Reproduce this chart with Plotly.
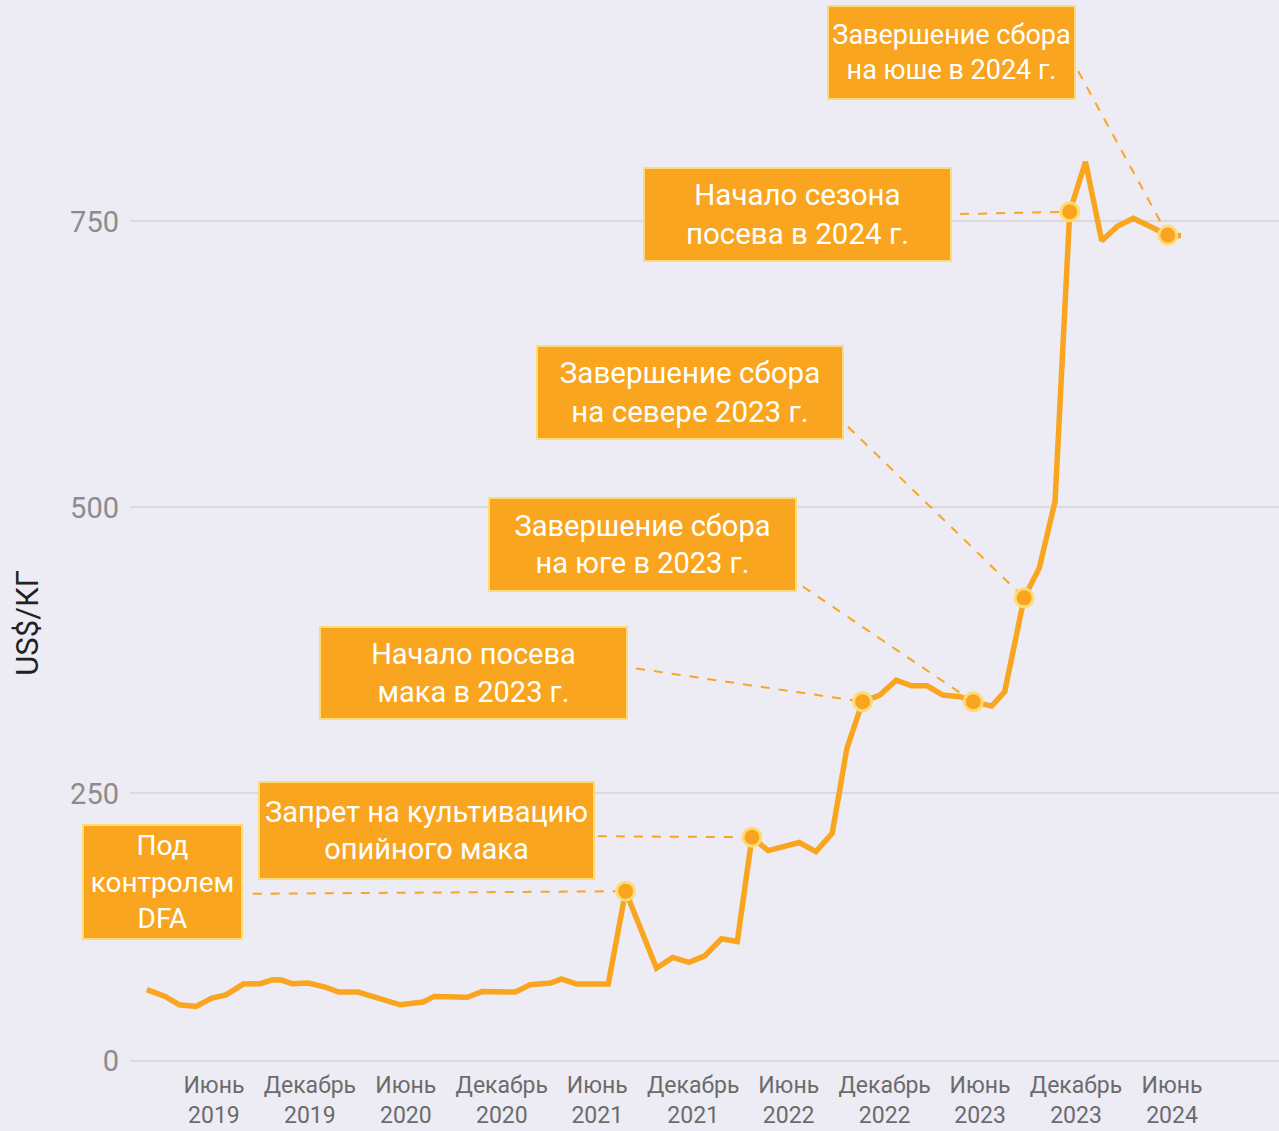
import plotly.graph_objects as go

# ---- data ----
dates = ["2019-01-24","2019-02-28","2019-03-27","2019-04-28","2019-05-28","2019-06-24","2019-07-27",
         "2019-08-29","2019-09-21","2019-10-08","2019-10-28","2019-11-28","2019-12-30",
         "2020-01-25","2020-03-02","2020-05-21","2020-07-04","2020-07-25","2020-09-26","2020-10-25","2020-12-27",
         "2021-01-24","2021-03-04","2021-03-25","2021-04-23","2021-06-22","2021-07-25","2021-09-22","2021-10-23",
         "2021-11-23","2021-12-23",
         "2022-01-24","2022-02-23","2022-03-23","2022-04-23","2022-06-21","2022-07-23","2022-08-23","2022-09-20",
         "2022-10-20","2022-11-22","2022-12-23",
         "2023-01-21","2023-02-20","2023-03-22","2023-04-24","2023-05-19","2023-06-23","2023-07-18","2023-08-24",
         "2023-09-22","2023-10-22","2023-11-19","2023-12-19",
         "2024-01-19","2024-02-18","2024-03-19","2024-05-24","2024-06-18"]
prices = [78.4,72.5,65.2,63.8,71.1,73.9,83.3,83.6,87.1,86.8,83.6,84.2,80.7,
          76.3,76.3,65.2,67.6,72.5,71.7,76.9,76.3,
          82.7,84.2,87.7,83.3,83.3,164.5,97.2,106.6,102.3,108.0,
          122.9,120.5,211.7,200.0,207.0,199.1,215.1,289.3,330.1,335.9,349.0,
          344.0,344.0,335.9,334.5,330.1,326.3,338.9,420.9,447.1,505.3,758.4,802.1,
          733.1,745.7,752.6,738.0,737.5]

event_dates = ["2021-07-25","2022-03-23","2022-10-20","2023-05-19","2023-08-24","2023-11-19","2024-05-24"]
event_labels = ["Под<br>контролем<br>DFA",
                "Запрет на культивацию<br>опийного мака",
                "Начало посева<br>мака в 2023 г.",
                "Завершение сбора<br>на юге в 2023 г.",
                "Завершение сбора<br>на севере 2023 г.",
                "Начало сезона<br>посева в 2024 г.",
                "Завершение сбора<br>на юше в 2024 г."]

tick_dates = ["2019-06-01","2019-12-01","2020-06-01","2020-12-01","2021-06-01","2021-12-01",
              "2022-06-01","2022-12-01","2023-06-01","2023-12-01","2024-06-01"]
tick_text = ["Июнь<br>2019","Декабрь<br>2019","Июнь<br>2020","Декабрь<br>2020","Июнь<br>2021",
             "Декабрь<br>2021","Июнь<br>2022","Декабрь<br>2022","Июнь<br>2023","Декабрь<br>2023","Июнь<br>2024"]
y_bottom = 16.1
y_ticks = [y_bottom, 250, 500, 750]
y_tick_text = ["0", "250", "500", "750"]

# ---- label layout (box centres and connector start, in axis units) ----
box_x = ["2019-02-23","2020-07-10","2020-10-08","2021-08-26","2021-11-25","2022-06-18","2023-04-07"]
box_y = [172.4, 217.3, 354.8, 467.9, 600.6, 756.0, 897.4]
box_w = [161, 337, 309, 309, 308, 309, 249]
box_h = [116, 99, 94, 95, 95, 95, 95]
box_fs = [28, 29, 29, 29, 29.5, 29.5, 27]
conn_x = ["2019-08-14","2021-06-02","2021-08-14","2022-06-28","2022-09-22","2023-04-24","2023-12-05"]
conn_y = [162.2, 212.5, 359.2, 430.8, 570.5, 756.4, 881.3]

ORANGE = "#F9A51F"
PALE = "#FDDB76"
BG = "#EDECF4"

fig = go.Figure()

lookup = dict(zip(dates, prices))
ev_vals = [lookup[d] for d in event_dates]

# connectors
for i in range(len(event_dates)):
    fig.add_trace(go.Scatter(x=[conn_x[i], event_dates[i]], y=[conn_y[i], ev_vals[i]],
                             mode="lines", line=dict(color=ORANGE, width=2, dash="dash"),
                             hoverinfo="skip", showlegend=False))

fig.add_trace(go.Scatter(x=dates, y=prices, mode="lines",
                         line=dict(color=ORANGE, width=5.5), showlegend=False))
fig.add_trace(go.Scatter(x=event_dates, y=ev_vals, mode="markers",
                         marker=dict(color=ORANGE, size=18, line=dict(color=PALE, width=3)),
                         showlegend=False))

for i, lab in enumerate(event_labels):
    fig.add_annotation(x=box_x[i], y=box_y[i], xref="x", yref="y", text=lab, showarrow=False,
                       font=dict(family="Roboto", size=box_fs[i], color="white"),
                       bgcolor=ORANGE, bordercolor=PALE, borderwidth=2, borderpad=0,
                       width=box_w[i] - 4, height=box_h[i] - 4, align="center", valign="middle")

fig.add_annotation(x=-0.107, y=0.4137, xref="paper", yref="paper", text="US$/КГ", showarrow=False,
                   textangle=-90, font=dict(family="Roboto", size=31, color="#222222"))

fig.update_layout(
    width=1279, height=1131,
    margin=dict(l=130, r=0, t=0, b=68, autoexpand=False),
    paper_bgcolor=BG, plot_bgcolor=BG,
    font=dict(family="Roboto"),
    xaxis=dict(type="date", range=["2018-12-23", "2024-12-22"], showgrid=False, zeroline=False,
               showline=False, tickvals=tick_dates, ticktext=tick_text, ticks="",
               ticklabelstandoff=6, automargin=False,
               tickfont=dict(family="Roboto", size=23, color="#6b6b6b")),
    yaxis=dict(range=[14.3, 943.5], tickvals=y_ticks, ticktext=y_tick_text,
               gridcolor="#d9d9de", gridwidth=1.5, zeroline=False, automargin=False,
               showline=False, ticks="", ticklabelstandoff=10,
               tickfont=dict(family="Roboto", size=29, color="#8c8c8c")),
)

fig.write_html("out.html", config={"displayModeBar": False},
               post_script="document.body.style.margin='0';")
